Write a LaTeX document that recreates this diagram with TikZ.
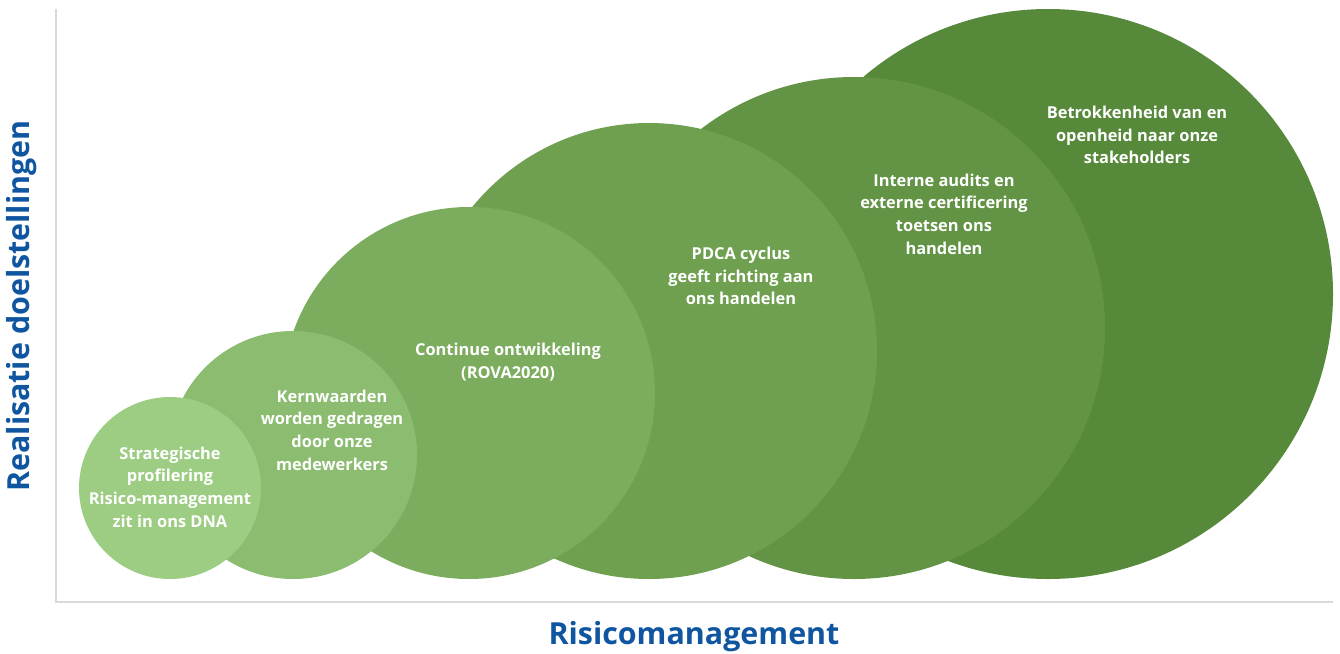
\documentclass[tikz,border=0pt]{standalone}
\usepackage{fontspec}
\setmainfont{Open Sans}
\definecolor{cA}{HTML}{9DCD83}
\definecolor{cB}{HTML}{8BBC70}
\definecolor{cC}{HTML}{7CAD5E}
\definecolor{cD}{HTML}{6EA050}
\definecolor{cE}{HTML}{639445}
\definecolor{cF}{HTML}{57893A}
\definecolor{axisblue}{HTML}{0F55A0}
\definecolor{axisgray}{HTML}{D9D9D9}
\begin{document}
\begin{tikzpicture}[x=1pt,y=-1pt,
  bubble/.style={circle,inner sep=0pt,outer sep=0pt,draw=none},
  btext/.style={text=white,align=center,font=\fontsize{16.4}{22.6}\selectfont\bfseries,inner sep=0pt},
  axlabel/.style={text=axisblue,font=\fontsize{30.4}{34}\selectfont\bfseries,inner sep=0pt}]
\useasboundingbox (0,0) rectangle (1340,653);
% axes
\coordinate (o) at (56,602);
\coordinate (ytop) at (56,9);
\coordinate (xend) at (1333,602);
\draw[axisgray,line width=2pt] (ytop) -- (o) -- (xend);
% bubbles, largest first
\node[bubble,fill=cF,minimum size=570pt] (c6) at (1048,294) {};
\node[bubble,fill=cE,minimum size=502pt] (c5) at (854,328) {};
\node[bubble,fill=cD,minimum size=456pt] (c4) at (649,351) {};
\node[bubble,fill=cC,minimum size=372pt] (c3) at (469,393) {};
\node[bubble,fill=cB,minimum size=248pt] (c2) at (293,455) {};
\node[bubble,fill=cA,minimum size=182pt] (c1) at (170,488) {};
% texts
\node[btext] (t1) at (170,487) {Strategische\\profilering\\Risico-management\\zit in ons DNA};
\node[btext] (t2) at (332,430) {Kernwaarden\\worden gedragen\\door onze\\medewerkers};
\node[btext] (t3) at (508,362) {Continue ontwikkeling\\(ROVA2020)};
\node[btext] (t4) at (741,276) {PDCA cyclus\\geeft richting aan\\ons handelen};
\node[btext] (t5) at (944,214) {Interne audits en\\externe certificering\\toetsen ons\\handelen};
\node[btext] (t6) at (1137,135) {Betrokkenheid van en\\openheid naar onze\\stakeholders};
% axis labels
\node[axlabel] (xl) at (694,637) {Risicomanagement};
\node[axlabel,rotate=90] (yl) at (22,306) {Realisatie doelstellingen};
\end{tikzpicture}
\end{document}
